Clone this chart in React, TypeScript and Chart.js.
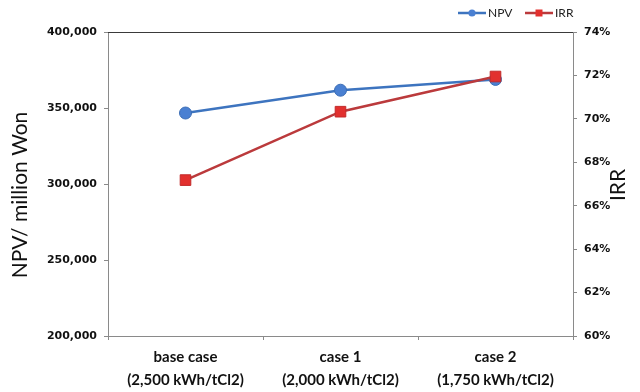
import React, { useEffect, useRef } from "react";
import { Chart, registerables } from "chart.js";

Chart.register(...registerables);

const categories: string[][] = [
  ["base case", "(2,500 kWh/tCl2)"],
  ["case 1", "(2,000 kWh/tCl2)"],
  ["case 2", "(1,750 kWh/tCl2)"],
];
const npvValues = [346700, 361700, 368800];
const irrValues = [67.18, 70.33, 71.95];
const npvTicks = { min: 200000, max: 400000, step: 50000 };
const irrTicks = { min: 60, max: 74, step: 2 };
const leftTitle = "NPV/ million Won";
const rightTitle = "IRR";

const NPV_LINE = "#3d74bf";
const NPV_POINT = "#4a80d2";
const IRR_LINE = "#bb3a3c";
const IRR_POINT = "#e2302e";
const AXIS = "#8a8a8a";

const legendPlugin = {
  id: "customLegend",
  afterDraw(chart: any) {
    const ctx = chart.ctx;
    const y = 13;
    const items = [
      { x: 458, label: chart.data.datasets[0].label, line: NPV_LINE, fill: NPV_POINT, shape: "circle" },
      { x: 525, label: chart.data.datasets[1].label, line: IRR_LINE, fill: IRR_POINT, shape: "rect" },
    ];
    ctx.save();
    for (const it of items) {
      ctx.strokeStyle = it.line;
      ctx.lineWidth = 2.5;
      ctx.beginPath();
      ctx.moveTo(it.x, y);
      ctx.lineTo(it.x + 28, y);
      ctx.stroke();
      ctx.fillStyle = it.fill;
      ctx.beginPath();
      if (it.shape === "circle") {
        ctx.arc(it.x + 14, y, 3.6, 0, Math.PI * 2);
      } else {
        ctx.rect(it.x + 14 - 3.5, y - 3.5, 7, 7);
      }
      ctx.fill();
      ctx.fillStyle = "#222";
      ctx.font = "12px Lato";
      ctx.textBaseline = "middle";
      ctx.textAlign = "left";
      ctx.fillText(it.label, it.x + 30, y + 0.5);
    }
    ctx.restore();
  },
};

const titlesPlugin = {
  id: "axisTitles",
  afterDraw(chart: any) {
    const ctx = chart.ctx;
    const draw = (text: string, x: number, y: number) => {
      ctx.save();
      ctx.translate(x, y);
      ctx.rotate(-Math.PI / 2);
      ctx.fillStyle = "#111";
      ctx.font = "21px Lato";
      ctx.textAlign = "center";
      ctx.textBaseline = "middle";
      ctx.fillText(text, 0, 0);
      ctx.restore();
    };
    draw(leftTitle, 20, 195);
    draw(rightTitle, 618, 185);
  },
};

const topLinePlugin = {
  id: "topLine",
  beforeDatasetsDraw(chart: any) {
    const { ctx, chartArea } = chart;
    ctx.save();
    ctx.strokeStyle = "#3a3a3a";
    ctx.lineWidth = 1;
    ctx.beginPath();
    ctx.moveTo(chartArea.left, Math.round(chartArea.top) + 0.5);
    ctx.lineTo(chartArea.right, Math.round(chartArea.top) + 0.5);
    ctx.stroke();
    ctx.restore();
  },
};

export default function App() {
  const ref = useRef<HTMLCanvasElement | null>(null);
  useEffect(() => {
    if (!ref.current) return;
    const chart = new Chart(ref.current, {
      type: "line",
      data: {
        labels: categories,
        datasets: [
          {
            label: "NPV",
            data: npvValues,
            yAxisID: "y",
            borderColor: NPV_LINE,
            backgroundColor: NPV_POINT,
            borderWidth: 2.5,
            pointStyle: "circle",
            pointRadius: 6,
            pointBorderWidth: 1,
            pointBorderColor: "#3b6db5",
            pointBackgroundColor: NPV_POINT,
            order: 1,
          },
          {
            label: "IRR",
            data: irrValues,
            yAxisID: "y1",
            borderColor: IRR_LINE,
            backgroundColor: IRR_POINT,
            borderWidth: 2.5,
            pointStyle: "rect",
            pointRadius: 7.5,
            pointBorderWidth: 1,
            pointBorderColor: "#c22a2a",
            pointBackgroundColor: IRR_POINT,
            order: 0,
          },
        ],
      },
      options: {
        responsive: false,
        animation: false,
        layout: { padding: { top: 32, left: 0, right: 0, bottom: 0 } },
        plugins: {
          legend: { display: false },
          tooltip: { enabled: false },
        },
        scales: {
          x: {
            type: "category",
            offset: true,
            grid: {
              offset: true,
              drawOnChartArea: false,
              drawTicks: true,
              tickLength: 4,
              color: AXIS,
            },
            border: { display: true, color: AXIS },
            ticks: {
              color: "#111",
              padding: 6,
              font: { family: "Lato", size: 15, weight: "bold", lineHeight: 1.53 },
              maxRotation: 0,
              autoSkip: false,
            },
            afterFit(scale: any) {
              scale.height = 56;
            },
          },
          y: {
            type: "linear",
            position: "left",
            min: npvTicks.min,
            max: npvTicks.max,
            grid: { drawOnChartArea: false, drawTicks: true, tickLength: 4, color: AXIS },
            border: { display: true, color: AXIS },
            ticks: {
              stepSize: npvTicks.step,
              padding: 7,
              color: "#111",
              font: { family: "DejaVu Sans", size: 11, weight: "bold" },
              callback: (v: any) => Number(v).toLocaleString("en-US"),
            },
            afterFit(scale: any) {
              scale.width = 108;
            },
          },
          y1: {
            type: "linear",
            position: "right",
            min: irrTicks.min,
            max: irrTicks.max,
            grid: { drawOnChartArea: false, drawTicks: true, tickLength: 4, color: AXIS },
            border: { display: true, color: AXIS },
            ticks: {
              stepSize: irrTicks.step,
              padding: 7,
              color: "#111",
              font: { family: "DejaVu Sans", size: 11, weight: "bold" },
              callback: (v: any) => v + "%",
            },
            afterFit(scale: any) {
              scale.width = 67;
            },
          },
        },
      },
      plugins: [legendPlugin, topLinePlugin, titlesPlugin],
    } as any);
    return () => chart.destroy();
  }, []);
  return (
    <div style={{ position: "absolute", left: 0, top: 0, width: 640, height: 392, background: "#fff" }}>
      <canvas ref={ref} width={640} height={392} />
    </div>
  );
}
